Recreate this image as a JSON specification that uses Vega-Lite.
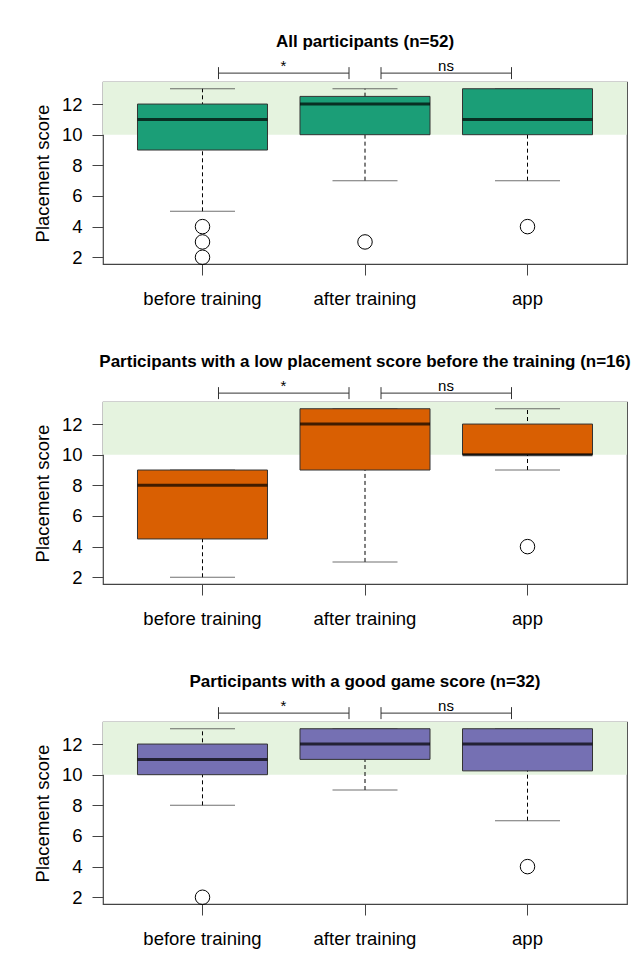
{
  "$schema": "https://vega.github.io/schema/vega-lite/v6.json",
  "padding": {"left": 32, "top": 32, "right": 2, "bottom": 5},
  "background": "white",
  "config": {
    "font": "Liberation Sans",
    "view": {"stroke": "#444", "strokeWidth": 1.2},
    "axis": {"grid": false, "domain": false, "tickColor": "#444", "labelColor": "#000", "labelFontSize": 18.5, "titleFontSize": 18.5, "titleFontWeight": "normal", "titleColor": "#000", "labelFont": "Liberation Sans", "titleFont": "Liberation Sans"},
    "axisY": {"values": [2, 4, 6, 8, 10, 12], "tickSize": 11, "labelPadding": 10, "titlePadding": 9},
    "axisX": {"labelAngle": 0, "tickSize": 11, "labelPadding": 14},
    "title": {"fontSize": 17, "fontWeight": "bold", "anchor": "middle", "frame": "group", "color": "#000", "offset": 8}
  },
  "datasets": {
    "boxes": [
      {"panel": "all", "cond": "before training", "lower": 5, "q1": 9, "median": 11, "q3": 12, "upper": 13},
      {"panel": "all", "cond": "after training", "lower": 7, "q1": 10, "median": 12, "q3": 12.5, "upper": 13},
      {"panel": "all", "cond": "app", "lower": 7, "q1": 10, "median": 11, "q3": 13, "upper": 13},
      {"panel": "low", "cond": "before training", "lower": 2, "q1": 4.5, "median": 8, "q3": 9, "upper": 9},
      {"panel": "low", "cond": "after training", "lower": 3, "q1": 9, "median": 12, "q3": 13, "upper": 13},
      {"panel": "low", "cond": "app", "lower": 9, "q1": 10, "median": 10, "q3": 12, "upper": 13},
      {"panel": "good", "cond": "before training", "lower": 8, "q1": 10, "median": 11, "q3": 12, "upper": 13},
      {"panel": "good", "cond": "after training", "lower": 9, "q1": 11, "median": 12, "q3": 13, "upper": 13},
      {"panel": "good", "cond": "app", "lower": 7, "q1": 10.25, "median": 12, "q3": 13, "upper": 13}
    ],
    "outliers": [
      {"panel": "all", "cond": "before training", "score": 4},
      {"panel": "all", "cond": "before training", "score": 3},
      {"panel": "all", "cond": "before training", "score": 2},
      {"panel": "all", "cond": "after training", "score": 3},
      {"panel": "all", "cond": "app", "score": 4},
      {"panel": "low", "cond": "app", "score": 4},
      {"panel": "good", "cond": "before training", "score": 2},
      {"panel": "good", "cond": "app", "score": 4}
    ],
    "brackets": [
      {"cond": "before training", "to": "after training", "label": "*"},
      {"cond": "after training", "to": "app", "label": "ns"}
    ],
    "threshold": [{"level": 10, "top": 13.44}]
  },
  "spacing": 43,
  "vconcat": [
    {
      "width": 524, "height": 182,
      "title": "All participants (n=52)",
      "layer": [
        {"data": {"name": "threshold"}, "mark": {"type": "rect", "color": "#e5f3df"},
         "encoding": {"y": {"field": "level", "type": "quantitative", "title": "Placement score", "scale": {"domain": [1.56, 13.44], "nice": false, "zero": false}}, "y2": {"field": "top"}}},
        {"data": {"name": "boxes"}, "transform": [{"filter": "datum.panel == 'all'"}], "mark": {"type": "rule", "color": "#000", "strokeDash": [4, 3], "strokeWidth": 1},
         "encoding": {"x": {"field": "cond", "type": "nominal", "title": null, "scale": {"type": "band", "domain": ["before training", "after training", "app"], "paddingInner": 0.2, "paddingOuter": 0.2123}},
          "y": {"field": "lower", "type": "quantitative", "title": "Placement score"}, "y2": {"field": "upper"}}},
        {"data": {"name": "boxes"}, "transform": [{"filter": "datum.panel == 'all'"}], "mark": {"type": "tick", "orient": "horizontal", "size": 65, "thickness": 1, "color": "#333"},
         "encoding": {"x": {"field": "cond", "type": "nominal", "title": null}, "y": {"field": "lower", "type": "quantitative", "title": "Placement score"}}},
        {"data": {"name": "boxes"}, "transform": [{"filter": "datum.panel == 'all'"}], "mark": {"type": "tick", "orient": "horizontal", "size": 65, "thickness": 1, "color": "#333"},
         "encoding": {"x": {"field": "cond", "type": "nominal", "title": null}, "y": {"field": "upper", "type": "quantitative", "title": "Placement score"}}},
        {"data": {"name": "boxes"}, "transform": [{"filter": "datum.panel == 'all'"}], "mark": {"type": "bar", "color": "#1b9e77", "stroke": "#333", "strokeWidth": 1},
         "encoding": {"x": {"field": "cond", "type": "nominal", "title": null}, "y": {"field": "q1", "type": "quantitative", "title": "Placement score"}, "y2": {"field": "q3"}}},
        {"data": {"name": "boxes"}, "transform": [{"filter": "datum.panel == 'all'"}], "mark": {"type": "tick", "orient": "horizontal", "size": 130, "thickness": 3, "color": "#000"},
         "encoding": {"x": {"field": "cond", "type": "nominal", "title": null}, "y": {"field": "median", "type": "quantitative", "title": "Placement score"}}},
        {"data": {"name": "outliers"}, "transform": [{"filter": "datum.panel == 'all'"}], "mark": {"type": "point", "shape": "circle", "size": 210, "stroke": "#000", "strokeWidth": 1, "filled": false, "opacity": 1},
         "encoding": {"x": {"field": "cond", "type": "nominal", "title": null}, "y": {"field": "score", "type": "quantitative", "title": "Placement score"}}},
        {"data": {"name": "brackets"}, "mark": {"type": "rule", "color": "#333", "strokeWidth": 1, "xOffset": 16, "x2Offset": -16},
         "encoding": {"x": {"field": "cond", "type": "nominal", "bandPosition": 0.5, "title": null}, "x2": {"field": "to", "bandPosition": 0.5}, "y": {"datum": 14.02, "type": "quantitative", "title": "Placement score"}}},
        {"data": {"name": "brackets"}, "mark": {"type": "rule", "color": "#333", "strokeWidth": 1, "xOffset": 16},
         "encoding": {"x": {"field": "cond", "type": "nominal", "title": null}, "y": {"datum": 13.63, "type": "quantitative", "title": "Placement score"}, "y2": {"datum": 14.41}}},
        {"data": {"name": "brackets"}, "mark": {"type": "rule", "color": "#333", "strokeWidth": 1, "xOffset": -16},
         "encoding": {"x": {"field": "to", "type": "nominal", "title": null}, "y": {"datum": 13.63, "type": "quantitative", "title": "Placement score"}, "y2": {"datum": 14.41}}},
        {"data": {"name": "brackets"}, "mark": {"type": "text", "fontSize": 15, "baseline": "middle", "xOffset": 81, "color": "#000"},
         "encoding": {"x": {"field": "cond", "type": "nominal", "title": null}, "y": {"datum": 14.5, "type": "quantitative", "title": "Placement score"}, "text": {"field": "label"}}}
      ]
    },
    {
      "width": 524, "height": 182,
      "title": "Participants with a low placement score before the training (n=16)",
      "layer": [
        {"data": {"name": "threshold"}, "mark": {"type": "rect", "color": "#e5f3df"},
         "encoding": {"y": {"field": "level", "type": "quantitative", "title": "Placement score", "scale": {"domain": [1.56, 13.44], "nice": false, "zero": false}}, "y2": {"field": "top"}}},
        {"data": {"name": "boxes"}, "transform": [{"filter": "datum.panel == 'low'"}], "mark": {"type": "rule", "color": "#000", "strokeDash": [4, 3], "strokeWidth": 1},
         "encoding": {"x": {"field": "cond", "type": "nominal", "title": null, "scale": {"type": "band", "domain": ["before training", "after training", "app"], "paddingInner": 0.2, "paddingOuter": 0.2123}},
          "y": {"field": "lower", "type": "quantitative", "title": "Placement score"}, "y2": {"field": "upper"}}},
        {"data": {"name": "boxes"}, "transform": [{"filter": "datum.panel == 'low'"}], "mark": {"type": "tick", "orient": "horizontal", "size": 65, "thickness": 1, "color": "#333"},
         "encoding": {"x": {"field": "cond", "type": "nominal", "title": null}, "y": {"field": "lower", "type": "quantitative", "title": "Placement score"}}},
        {"data": {"name": "boxes"}, "transform": [{"filter": "datum.panel == 'low'"}], "mark": {"type": "tick", "orient": "horizontal", "size": 65, "thickness": 1, "color": "#333"},
         "encoding": {"x": {"field": "cond", "type": "nominal", "title": null}, "y": {"field": "upper", "type": "quantitative", "title": "Placement score"}}},
        {"data": {"name": "boxes"}, "transform": [{"filter": "datum.panel == 'low'"}], "mark": {"type": "bar", "color": "#d95f02", "stroke": "#333", "strokeWidth": 1},
         "encoding": {"x": {"field": "cond", "type": "nominal", "title": null}, "y": {"field": "q1", "type": "quantitative", "title": "Placement score"}, "y2": {"field": "q3"}}},
        {"data": {"name": "boxes"}, "transform": [{"filter": "datum.panel == 'low'"}], "mark": {"type": "tick", "orient": "horizontal", "size": 130, "thickness": 3, "color": "#000"},
         "encoding": {"x": {"field": "cond", "type": "nominal", "title": null}, "y": {"field": "median", "type": "quantitative", "title": "Placement score"}}},
        {"data": {"name": "outliers"}, "transform": [{"filter": "datum.panel == 'low'"}], "mark": {"type": "point", "shape": "circle", "size": 210, "stroke": "#000", "strokeWidth": 1, "filled": false, "opacity": 1},
         "encoding": {"x": {"field": "cond", "type": "nominal", "title": null}, "y": {"field": "score", "type": "quantitative", "title": "Placement score"}}},
        {"data": {"name": "brackets"}, "mark": {"type": "rule", "color": "#333", "strokeWidth": 1, "xOffset": 16, "x2Offset": -16},
         "encoding": {"x": {"field": "cond", "type": "nominal", "bandPosition": 0.5, "title": null}, "x2": {"field": "to", "bandPosition": 0.5}, "y": {"datum": 14.02, "type": "quantitative", "title": "Placement score"}}},
        {"data": {"name": "brackets"}, "mark": {"type": "rule", "color": "#333", "strokeWidth": 1, "xOffset": 16},
         "encoding": {"x": {"field": "cond", "type": "nominal", "title": null}, "y": {"datum": 13.63, "type": "quantitative", "title": "Placement score"}, "y2": {"datum": 14.41}}},
        {"data": {"name": "brackets"}, "mark": {"type": "rule", "color": "#333", "strokeWidth": 1, "xOffset": -16},
         "encoding": {"x": {"field": "to", "type": "nominal", "title": null}, "y": {"datum": 13.63, "type": "quantitative", "title": "Placement score"}, "y2": {"datum": 14.41}}},
        {"data": {"name": "brackets"}, "mark": {"type": "text", "fontSize": 15, "baseline": "middle", "xOffset": 81, "color": "#000"},
         "encoding": {"x": {"field": "cond", "type": "nominal", "title": null}, "y": {"datum": 14.5, "type": "quantitative", "title": "Placement score"}, "text": {"field": "label"}}}
      ]
    },
    {
      "width": 524, "height": 182,
      "title": "Participants with a good game score (n=32)",
      "layer": [
        {"data": {"name": "threshold"}, "mark": {"type": "rect", "color": "#e5f3df"},
         "encoding": {"y": {"field": "level", "type": "quantitative", "title": "Placement score", "scale": {"domain": [1.56, 13.44], "nice": false, "zero": false}}, "y2": {"field": "top"}}},
        {"data": {"name": "boxes"}, "transform": [{"filter": "datum.panel == 'good'"}], "mark": {"type": "rule", "color": "#000", "strokeDash": [4, 3], "strokeWidth": 1},
         "encoding": {"x": {"field": "cond", "type": "nominal", "title": null, "scale": {"type": "band", "domain": ["before training", "after training", "app"], "paddingInner": 0.2, "paddingOuter": 0.2123}},
          "y": {"field": "lower", "type": "quantitative", "title": "Placement score"}, "y2": {"field": "upper"}}},
        {"data": {"name": "boxes"}, "transform": [{"filter": "datum.panel == 'good'"}], "mark": {"type": "tick", "orient": "horizontal", "size": 65, "thickness": 1, "color": "#333"},
         "encoding": {"x": {"field": "cond", "type": "nominal", "title": null}, "y": {"field": "lower", "type": "quantitative", "title": "Placement score"}}},
        {"data": {"name": "boxes"}, "transform": [{"filter": "datum.panel == 'good'"}], "mark": {"type": "tick", "orient": "horizontal", "size": 65, "thickness": 1, "color": "#333"},
         "encoding": {"x": {"field": "cond", "type": "nominal", "title": null}, "y": {"field": "upper", "type": "quantitative", "title": "Placement score"}}},
        {"data": {"name": "boxes"}, "transform": [{"filter": "datum.panel == 'good'"}], "mark": {"type": "bar", "color": "#7570b3", "stroke": "#333", "strokeWidth": 1},
         "encoding": {"x": {"field": "cond", "type": "nominal", "title": null}, "y": {"field": "q1", "type": "quantitative", "title": "Placement score"}, "y2": {"field": "q3"}}},
        {"data": {"name": "boxes"}, "transform": [{"filter": "datum.panel == 'good'"}], "mark": {"type": "tick", "orient": "horizontal", "size": 130, "thickness": 3, "color": "#000"},
         "encoding": {"x": {"field": "cond", "type": "nominal", "title": null}, "y": {"field": "median", "type": "quantitative", "title": "Placement score"}}},
        {"data": {"name": "outliers"}, "transform": [{"filter": "datum.panel == 'good'"}], "mark": {"type": "point", "shape": "circle", "size": 210, "stroke": "#000", "strokeWidth": 1, "filled": false, "opacity": 1},
         "encoding": {"x": {"field": "cond", "type": "nominal", "title": null}, "y": {"field": "score", "type": "quantitative", "title": "Placement score"}}},
        {"data": {"name": "brackets"}, "mark": {"type": "rule", "color": "#333", "strokeWidth": 1, "xOffset": 16, "x2Offset": -16},
         "encoding": {"x": {"field": "cond", "type": "nominal", "bandPosition": 0.5, "title": null}, "x2": {"field": "to", "bandPosition": 0.5}, "y": {"datum": 14.02, "type": "quantitative", "title": "Placement score"}}},
        {"data": {"name": "brackets"}, "mark": {"type": "rule", "color": "#333", "strokeWidth": 1, "xOffset": 16},
         "encoding": {"x": {"field": "cond", "type": "nominal", "title": null}, "y": {"datum": 13.63, "type": "quantitative", "title": "Placement score"}, "y2": {"datum": 14.41}}},
        {"data": {"name": "brackets"}, "mark": {"type": "rule", "color": "#333", "strokeWidth": 1, "xOffset": -16},
         "encoding": {"x": {"field": "to", "type": "nominal", "title": null}, "y": {"datum": 13.63, "type": "quantitative", "title": "Placement score"}, "y2": {"datum": 14.41}}},
        {"data": {"name": "brackets"}, "mark": {"type": "text", "fontSize": 15, "baseline": "middle", "xOffset": 81, "color": "#000"},
         "encoding": {"x": {"field": "cond", "type": "nominal", "title": null}, "y": {"datum": 14.5, "type": "quantitative", "title": "Placement score"}, "text": {"field": "label"}}}
      ]
    }
  ]
}
